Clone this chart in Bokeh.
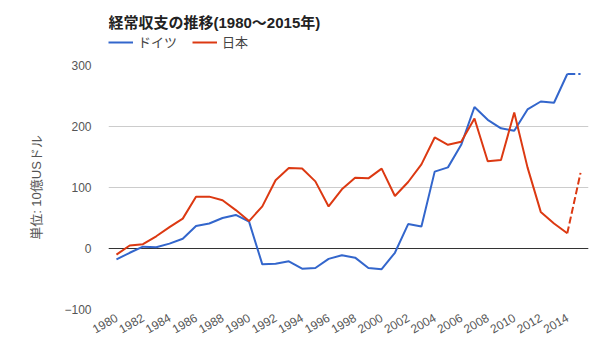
import math
from bokeh.plotting import figure
from bokeh.layouts import column
from bokeh.models import Legend, LegendItem, FixedTicker, Span, Range1d, Label
from bokeh.embed import file_html
from bokeh.resources import INLINE

# ---- data (billion USD) ----
years = list(range(1980, 2016))
germany = [-18, -7, 3, 2, 8, 16, 37, 41, 50, 55, 44, -26, -25, -21, -33, -32,
           -17, -11, -15, -32, -34, -7, 40, 36, 126, 133, 170, 232, 211, 197,
           193, 228, 241, 239, 286, 286]
japan = [-10, 5, 7, 20, 35, 49, 85, 85, 79, 63, 45, 69, 112, 132, 131, 110,
         69, 97, 116, 115, 131, 86, 109, 138, 182, 170, 175, 213, 143, 145,
         223, 133, 60, 41, 25, 124]
y_ticks = [-100, 0, 100, 200, 300]
x_ticks = list(range(1980, 2015, 2))
series_names = ["ドイツ", "日本"]
title_text = "経常収支の推移(1980～2015年)"
y_label = "単位: 10億USドル"

FONT = "Liberation Sans, Noto Sans CJK JP"
BLUE = "#3366cc"
RED = "#dc3912"
W = 600
HEAD_H = 58

x_range = Range1d(1979.4, 2015.6)

# ---------- header (title + legend) ----------
# y range far from the data: the header only shows the title and the legend
h = figure(width=W, height=HEAD_H, output_backend="svg", toolbar_location=None,
           x_range=x_range, y_range=Range1d(1000, 1100),
           x_axis_type=None, y_axis_type=None,
           min_border_left=0, min_border_right=0, min_border_top=0,
           min_border_bottom=0)
h.outline_line_color = None
h.grid.grid_line_color = None
h.add_layout(Label(x=0, y=HEAD_H - 22, x_units="screen", y_units="screen",
                   text=title_text, text_font=FONT, text_font_size="15px",
                   text_font_style="bold", text_color="#222222",
                   text_baseline="middle", text_align="left"))
hg = h.line(years, germany, line_color=BLUE, line_width=2)
hj = h.line(years, japan, line_color=RED, line_width=2)
legend = Legend(items=[LegendItem(label=series_names[0], renderers=[hg]),
                       LegendItem(label=series_names[1], renderers=[hj])],
                location=(0, HEAD_H - 43 - 8), orientation="horizontal",
                padding=0, margin=0, spacing=15, glyph_width=25, glyph_height=16,
                label_standoff=5, label_height=16, label_text_font=FONT,
                label_text_font_size="13px", label_text_color="#444444",
                background_fill_alpha=0, border_line_color=None)
h.add_layout(legend)

# ---------- main chart ----------
p = figure(width=W, height=360 - HEAD_H, output_backend="svg", toolbar_location=None,
           x_range=x_range, y_range=Range1d(-100, 300),
           min_border_left=108, min_border_right=12, min_border_top=65 - HEAD_H,
           min_border_bottom=51)
p.outline_line_color = None

p.xgrid.grid_line_color = None
p.ygrid.grid_line_color = "#cccccc"
p.ygrid.ticker = FixedTicker(ticks=y_ticks)

zero = Span(location=0, dimension="width", line_color="#333333", line_width=1,
            level="underlay")
p.add_layout(zero)

# solid segments up to 2014, dashed 2014-2015
p.line(years[:-1], germany[:-1], line_color=BLUE, line_width=2)
p.line(years[:-1], japan[:-1], line_color=RED, line_width=2)
p.line(years[-2:], germany[-2:], line_color=BLUE, line_width=2, line_dash="8 3")
p.line(years[-2:], japan[-2:], line_color=RED, line_width=2, line_dash="7 3")

p.yaxis.ticker = FixedTicker(ticks=y_ticks)
p.yaxis.axis_line_color = None
p.yaxis.major_tick_line_color = None
p.yaxis.minor_tick_line_color = None
p.yaxis.major_label_standoff = 11
p.yaxis.major_label_text_font = FONT
p.yaxis.major_label_text_font_size = "12px"
p.yaxis.major_label_text_color = "#555555"
p.yaxis.axis_label = y_label
p.yaxis.axis_label_text_font = FONT
p.yaxis.axis_label_text_font_size = "13px"
p.yaxis.axis_label_text_font_style = "normal"
p.yaxis.axis_label_text_color = "#555555"
p.yaxis.axis_label_standoff = 17

p.xaxis.ticker = FixedTicker(ticks=x_ticks)
p.xaxis.axis_line_color = None
p.xaxis.major_tick_line_color = None
p.xaxis.minor_tick_line_color = None
p.xaxis.major_label_orientation = math.pi / 6
p.xaxis.major_label_standoff = 1
p.xaxis.major_label_text_font = FONT
p.xaxis.major_label_text_font_size = "12px"
p.xaxis.major_label_text_color = "#555555"

layout = column(h, p, spacing=0)
open("out.html", "w").write(file_html(layout, INLINE))
